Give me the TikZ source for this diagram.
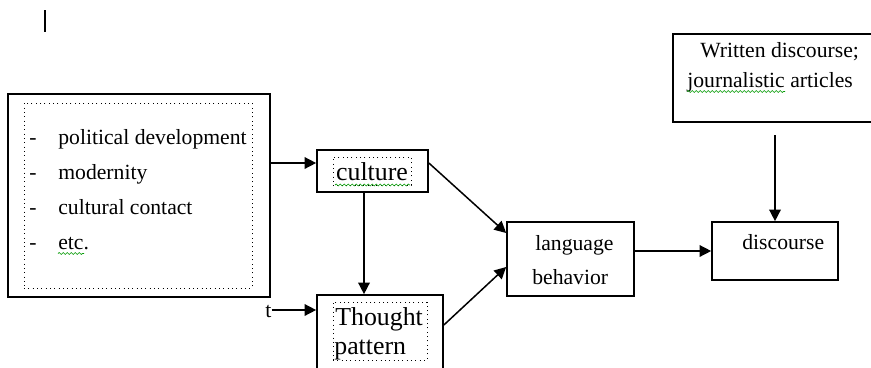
\documentclass[tikz,border=0pt]{standalone}
\usepackage{fontspec}
\setmainfont{Liberation Serif}
\usetikzlibrary{arrows.meta,positioning,decorations.pathmorphing}
\tikzset{
    box/.style={
           rectangle,
           draw=black, line width=1pt,
           inner sep=0pt,
           },
}
\tikzset{
    dotbox/.style={
           rectangle,
           draw=black, dotted, line width=0.6pt,
           inner sep=0pt,
           },
}
\tikzset{
    arr/.style={
           -{Triangle[length=7pt,width=7pt]},
           line width=0.9pt,
           },
}
\tikzset{
    txt/.style={
           font=\fontsize{13}{15}\selectfont,
           text height=0.7em, text depth=0.22em,
           inner sep=0pt, anchor=west,
           },
    bigtxt/.style={
           font=\fontsize{15.5}{18}\selectfont,
           text height=0.7em, text depth=0.22em,
           inner sep=0pt, anchor=west,
           },
    squiggle/.style={
           draw=green!60!black, line width=0.4pt,
           decorate, decoration={snake, amplitude=0.6pt, segment length=2.4pt},
           },
}

\begin{document}
\begin{tikzpicture}[x=0.6pt,y=-0.6pt]
\useasboundingbox (0,0) rectangle (871,367);
\clip (0,0) rectangle (871,367);
% mark top left
\draw[line width=1.5pt] (45,10) -- (45,32);
% factors
\node[box, minimum width=157.2pt, minimum height=121.8pt](factors) at (139,195.5){};
\node[dotbox, minimum width=136.8pt, minimum height=111pt](factorsin) at (138,195.5){};
\node[txt](dash1) at (29,140){-};
\node[txt](dash2) at (29,175){-};
\node[txt](dash3) at (29,210){-};
\node[txt](dash4) at (29,245){-};
\node[txt](politics) at (58,140){political development};
\node[txt](modern) at (58,175){modernity};
\node[txt](contact) at (58,210){cultural contact};
\node[txt](etc) at (58,245){etc.};
\draw[squiggle] (58,253.5) -- (84,253.5);
% culture
\node[box, minimum width=66.6pt, minimum height=25.2pt](culture) at (372.5,171){};
\node[dotbox, minimum width=46.8pt, minimum height=16.8pt](culturein) at (372,171){};
\node[bigtxt, anchor=center](culturetxt) at (372,176){culture};
\draw[squiggle] (335,185) -- (410,185);
% thought pattern
\node[box, minimum width=75.6pt, minimum height=51pt](thought) at (380,337.5){};
\node[dotbox, minimum width=56.4pt, minimum height=34.8pt](thoughtin) at (380,331){};
\node[bigtxt](thought1) at (335,321){Thought};
\node[bigtxt](thought2) at (334,350){pattern};
\node[txt](tlabel) at (265,313){t};
% language behavior
\node[box, minimum width=76.2pt, minimum height=44.4pt](lang) at (570.5,259){};
\node[txt](lang1) at (535,246){language};
\node[txt](lang2) at (532,280){behavior};
% discourse
\node[box, minimum width=75.6pt, minimum height=34.8pt](disc) at (775,251){};
\node[txt](disctxt) at (742,245){discourse};
% written discourse
\node[box, minimum width=120pt, minimum height=52.8pt](written) at (773,78){};
\node[txt](written1) at (700,53){Written discourse;};
\node[txt](written2) at (687,83){journalistic articles};
\draw[squiggle] (687,91.5) -- (785,91.5);
% arrows
\coordinate (cx) at (364,0);
\draw[arr] (factors.east |- 0,163) -- (culture.west |- 0,163);
\draw[arr] (culture.south -| cx) -- (thought.north -| cx);
\draw[arr] (tlabel.east |- 0,310) -- (thought.west |- 0,310);
\draw[arr] (culture.east |- 0,163) -- (lang.west |- 0,233);
\draw[arr] (thought.east |- 0,325) -- (lang.west |- 0,267);
\draw[arr] (lang.east |- disc.west) -- (disc.west);
\draw[arr] (disc.north |- 0,135) -- (disc.north);
\end{tikzpicture}
\end{document}
